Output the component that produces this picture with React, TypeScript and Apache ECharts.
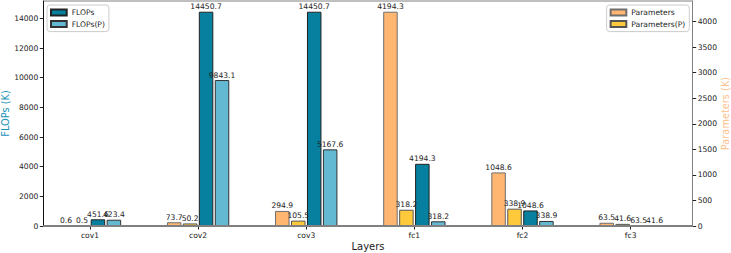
import React, { useEffect, useRef } from "react";
import * as echarts from "echarts";

const categories = ["cov1", "cov2", "cov3", "fc1", "fc2", "fc3"];
const parameters = [0.6, 73.7, 294.9, 4194.3, 1048.6, 63.5];
const parametersP = [0.5, 50.2, 105.5, 318.2, 338.9, 41.6];
const flops = [451.6, 14450.7, 14450.7, 4194.3, 1048.6, 63.5];
const flopsP = [423.4, 9843.1, 5167.6, 318.2, 338.9, 41.6];
const flopsTicks = [0, 2000, 4000, 6000, 8000, 10000, 12000, 14000];
const paramTicks = [0, 500, 1000, 1500, 2000, 2500, 3000, 3500, 4000];

const FONT = "DejaVu Sans";

export default function App() {
  const ref = useRef<HTMLDivElement>(null);
  useEffect(() => {
    if (!ref.current) return;
    const chart = echarts.init(ref.current, null, { renderer: "svg" });
    const gridLeft = 35.9;
    const gridWidth = 648.8;
    const plotL = 43.3;
    const plotR = 692.7;
    const plotT = 1;
    const plotB = 226;
    const label = {
      show: true,
      position: "top" as const,
      distance: 1,
      fontSize: 7.6,
      fontFamily: FONT,
      color: "#222",
      formatter: (p: any) => Number(p.value).toFixed(1),
    };
    const mkBar = (name: string, data: number[], axis: number, color: string, edge: string) => ({
      name,
      type: "bar",
      yAxisIndex: axis,
      data,
      barWidth: 14.5,
      barGap: "10%",
      itemStyle: { color, borderColor: edge, borderWidth: 1 },
      label,
    });
    const legendCommon = {
      orient: "vertical" as const,
      top: 5,
      padding: [3, 4, 3, 3],
      itemWidth: 15.7,
      itemHeight: 6,
      itemGap: 2.6,
      icon: "rect",
      borderColor: "#cccccc",
      borderWidth: 1,
      borderRadius: 3,
      backgroundColor: "rgba(255,255,255,0.8)",
      textStyle: { fontSize: 7.6, fontFamily: FONT, color: "#222", lineHeight: 9 },
    };
    const plain = (v: number) => String(v);
    chart.setOption({
      animation: false,
      grid: {
        left: gridLeft,
        top: plotT,
        width: gridWidth,
        height: plotB - plotT,
        containLabel: false,
        outerBoundsMode: "none",
      },
      legend: [
        { ...legendCommon, left: 47, data: ["FLOPs", "FLOPs(P)"] },
        { ...legendCommon, right: 731 - 689.3, data: ["Parameters", "Parameters(P)"] },
      ],
      xAxis: {
        type: "category",
        data: categories,
        axisLine: { show: false },
        axisTick: { show: true, alignWithLabel: true, length: 3.5, lineStyle: { color: "#222" } },
        axisLabel: { fontSize: 7.6, fontFamily: FONT, color: "#222", margin: 5 },
        splitLine: { show: false },
      },
      yAxis: [
        {
          type: "value",
          position: "left",
          offset: -(plotL - gridLeft),
          min: 0,
          max: 15173.2,
          interval: 2000,
          name: "FLOPs (K)",
          nameLocation: "middle",
          nameGap: 33,
          nameMoveOverlap: false,
          nameTextStyle: { fontSize: 9.8, fontFamily: FONT, color: "#1a93b8" },
          axisLine: { show: true, lineStyle: { color: "#111", width: 1 } },
          axisTick: { show: true, length: 3.5, lineStyle: { color: "#222" }, customValues: flopsTicks },
          axisLabel: {
            fontSize: 7.6,
            fontFamily: FONT,
            color: "#222",
            margin: 5,
            customValues: flopsTicks,
            formatter: plain,
          },
          splitLine: { show: false },
        },
        {
          type: "value",
          position: "right",
          offset: plotR - (gridLeft + gridWidth),
          min: 0,
          max: 4404,
          interval: 500,
          name: "Parameters (K)",
          nameLocation: "middle",
          nameGap: 28,
          nameMoveOverlap: false,
          nameTextStyle: { fontSize: 9.8, fontFamily: FONT, color: "#fcc08c" },
          axisLine: { show: true, lineStyle: { color: "#808080", width: 1 } },
          axisTick: { show: true, length: 3.5, lineStyle: { color: "#222" }, customValues: paramTicks },
          axisLabel: {
            fontSize: 7.6,
            fontFamily: FONT,
            color: "#222",
            margin: 5,
            customValues: paramTicks,
            formatter: plain,
          },
          splitLine: { show: false },
        },
      ],
      graphic: [
        {
          type: "line",
          shape: { x1: plotL, y1: plotT, x2: plotR, y2: plotT },
          style: { stroke: "#808080", lineWidth: 1 },
          silent: true,
        },
        {
          type: "line",
          shape: { x1: plotL, y1: plotB, x2: plotR, y2: plotB },
          style: { stroke: "#808080", lineWidth: 2 },
          silent: true,
          z: 10,
        },
        {
          type: "text",
          x: (plotL + plotR) / 2,
          y: 246,
          style: {
            text: "Layers",
            fontSize: 10,
            fontFamily: FONT,
            fill: "#222",
            textAlign: "center",
            textVerticalAlign: "middle",
          },
        },
      ],
      series: [
        mkBar("Parameters", parameters, 1, "#feb670", "#6e6e6e"),
        mkBar("Parameters(P)", parametersP, 1, "#fec93b", "#555555"),
        mkBar("FLOPs", flops, 0, "#06809e", "#222222"),
        mkBar("FLOPs(P)", flopsP, 0, "#62b9d1", "#333333"),
      ],
    });
    return () => chart.dispose();
  }, []);
  return (
    <div
      ref={ref}
      style={{ position: "fixed", left: 0, top: 0, width: 731, height: 253, background: "#fff" }}
    />
  );
}
